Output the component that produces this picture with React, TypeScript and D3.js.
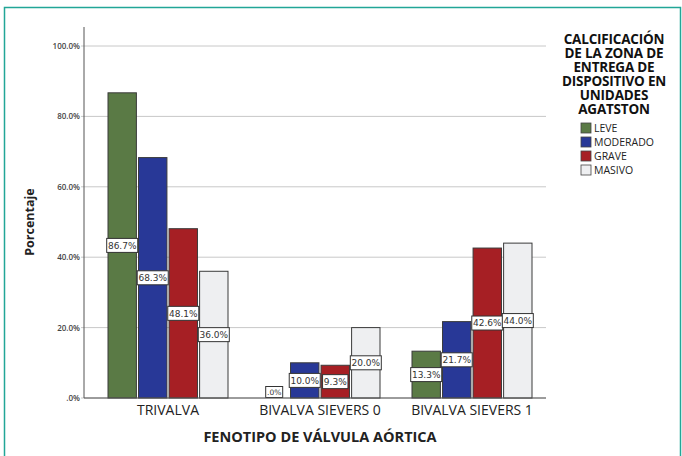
import React from 'react';
import * as d3 from 'd3';

const width = 682;
const height = 456;
const margin = { top: 46, right: 134, bottom: 58, left: 84 };

const categories = ['TRIVALVA', 'BIVALVA SIEVERS 0', 'BIVALVA SIEVERS 1'];
const series = ['LEVE', 'MODERADO', 'GRAVE', 'MASIVO'];
const leve = [86.7, 0, 13.3];
const moderado = [68.3, 10.0, 21.7];
const grave = [48.1, 9.3, 42.6];
const masivo = [36.0, 20.0, 44.0];
const yTicks = [0, 20, 40, 60, 80, 100];
const legendTitle = ['CALCIFICACIÓN', 'DE LA ZONA DE', 'ENTREGA DE', 'DISPOSITIVO EN', 'UNIDADES', 'AGATSTON'];
const colors = ['#5a7a45', '#283897', '#a61f24', '#eeeff1'];

const values = [leve, moderado, grave, masivo];

const fmt = (v: number) => (v === 0 ? '.0%' : `${v.toFixed(1)}%`);

export default function App() {
  const plotBottom = 398;
  const plotTop = 46;
  const y = d3.scaleLinear().domain([0, 100]).range([plotBottom, plotTop]);
  const x0 = d3.scaleBand().domain(categories).range([92, 548]);
  const groupW = 120;
  const x1 = d3.scaleBand().domain(series).range([0, groupW]).paddingInner(0.07);
  const font = '"Open Sans", "Liberation Sans", sans-serif';

  return (
    <svg width={width} height={height} style={{ position: 'absolute', left: 0, top: 0, background: '#fff' }}>
      <rect x={4.5} y={7.5} width={676} height={470} fill="#fff" stroke="#22a697" strokeWidth={1.5} />
      {/* grid */}
      {yTicks.map(t => (
        <g key={t}>
          <line x1={margin.left - 3} x2={546} y1={y(t)} y2={y(t)} stroke="#c8c8c8" strokeWidth={1} />
          <text x={80} y={y(t) + 3} textAnchor="end" fontSize={8} fill="#444" fontFamily={font} fontWeight={600}>
            {t === 0 ? '.0%' : `${t.toFixed(1)}%`}
          </text>
        </g>
      ))}
      <line x1={margin.left} x2={margin.left} y1={27} y2={plotBottom} stroke="#555" strokeWidth={1} />
      {/* bars */}
      {categories.map((c, ci) => {
        const gx = (x0(c) as number) + (x0.bandwidth() - groupW) / 2;
        return (
          <g key={c} transform={`translate(${gx},0)`}>
            {series.map((s, si) => {
              const v = values[si][ci];
              const bx = x1(s) as number;
              return (
                <rect key={s} x={bx} y={y(v)} width={x1.bandwidth()} height={plotBottom - y(v)}
                  fill={colors[si]} stroke="#3a3a3a" strokeWidth={1} />
              );
            })}
            {series.map((s, si) => {
              const v = values[si][ci];
              const cx = (x1(s) as number) + x1.bandwidth() / 2;
              const cy = v === 0 ? plotBottom - 6 : y(v / 2);
              const label = fmt(v);
              const w = v === 0 ? 17 : label.length * 5.6 + 3;
              const h = v === 0 ? 11 : 14;
              return (
                <g key={s}>
                  <rect x={cx - w / 2} y={cy - h / 2} width={w} height={h} fill="#fff" stroke="#333" strokeWidth={1} />
                  <text x={cx} y={cy + 3.2} textAnchor="middle" fontSize={v === 0 ? 7.5 : 9} fill="#333"
                    fontFamily='"DejaVu Sans", sans-serif'>{label}</text>
                </g>
              );
            })}
          </g>
        );
      })}
      <line x1={margin.left} x2={546} y1={plotBottom} y2={plotBottom} stroke="#555" strokeWidth={1} />
      {/* x labels */}
      {categories.map(c => (
        <text key={c} x={(x0(c) as number) + x0.bandwidth() / 2} y={415} textAnchor="middle" fontSize={14}
          fill="#222" fontFamily={font}>{c}</text>
      ))}
      <text x={320} y={442} textAnchor="middle" fontSize={14.5} fontWeight={700} fill="#222" fontFamily={font}>
        FENOTIPO DE VÁLVULA AÓRTICA
      </text>
      <text transform={`translate(34,222) rotate(-90)`} textAnchor="middle" fontSize={12.5} fontWeight={700}
        fill="#222" fontFamily={font}>Porcentaje</text>
      {/* legend */}
      {legendTitle.map((l, i) => (
        <text key={l} x={614} y={44 + i * 14} textAnchor="middle" fontSize={13.5} fontWeight={700} fill="#111"
          fontFamily={font} letterSpacing={-0.2}>{l}</text>
      ))}
      {series.map((s, i) => (
        <g key={s} transform={`translate(581,${123 + i * 14})`}>
          <rect x={0} y={0} width={10} height={10} fill={colors[i]} stroke="#444" strokeWidth={0.8} />
          <text x={13} y={9} fontSize={10.5} fill="#222" fontFamily={font}>{s}</text>
        </g>
      ))}
    </svg>
  );
}
